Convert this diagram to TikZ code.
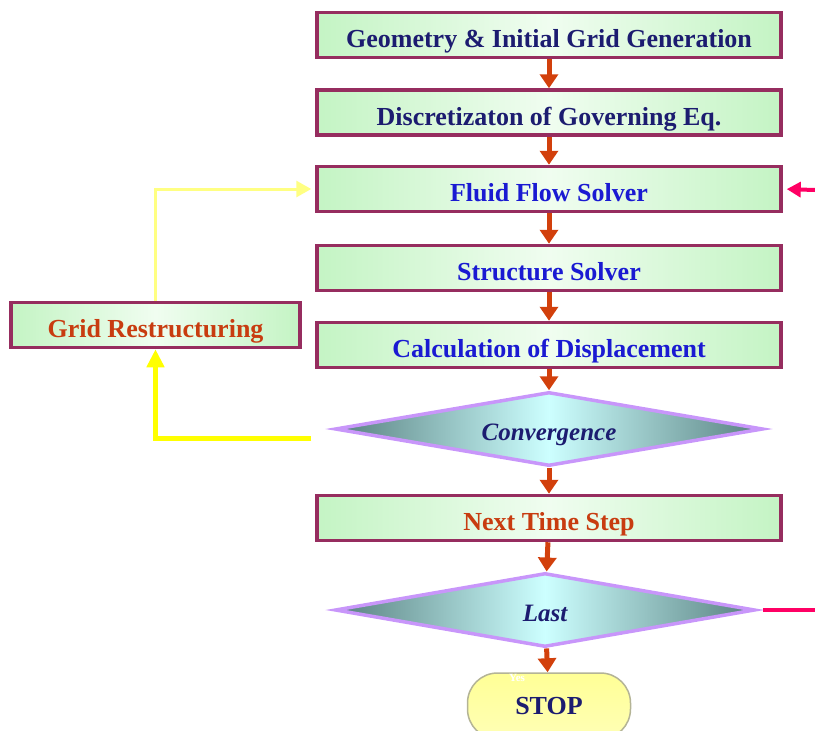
\documentclass[tikz,border=0pt]{standalone}
\usepackage{fontspec}
\setmainfont{Liberation Serif}
\usetikzlibrary{calc, shapes, arrows.meta, positioning}
\definecolor{boxgreen}{RGB}{196,244,196}
\definecolor{boxlight}{RGB}{240,253,240}
\definecolor{boxborder}{RGB}{150,45,95}
\definecolor{diadark}{RGB}{88,128,128}
\definecolor{dialight}{RGB}{205,255,255}
\definecolor{dialine}{RGB}{200,150,250}
\definecolor{arrowred}{RGB}{210,64,12}
\definecolor{textnavy}{RGB}{28,28,112}
\definecolor{textblue}{RGB}{26,26,210}
\definecolor{textorange}{RGB}{200,60,16}
\definecolor{loopyellow}{RGB}{255,255,130}
\definecolor{hotyellow}{RGB}{255,255,0}
\definecolor{looppink}{RGB}{255,0,100}
\definecolor{stopyellow}{RGB}{255,255,150}
\definecolor{stopborder}{RGB}{180,180,150}
\tikzset{
    flowbox/.style = {draw=boxborder, line width=3.5pt, rectangle, left color=boxgreen, right color=boxgreen,
      middle color=boxlight, minimum width=464pt, minimum height=45pt, inner sep=0pt, node distance=0em,
      text height=25pt, text depth=0pt, font=\bfseries\fontsize{26}{28}\selectfont},
    decisionnode/.style = {draw=dialine, line width=3.5pt, diamond, aspect=5.8, left color=diadark, right color=diadark,
      middle color=dialight, minimum width=428pt, minimum height=74pt, inner sep=0pt, node distance=0em,
      text height=22pt, text depth=0pt, font=\bfseries\itshape\fontsize{25}{28}\selectfont, text=textnavy},
    stopnode/.style = {draw=stopborder, line width=1.5pt, rectangle, rounded corners=30pt, top color=stopyellow,
      bottom color=stopyellow!70!white, minimum width=163pt, minimum height=66pt, node distance=0em,
      font=\bfseries\fontsize{26}{28}\selectfont, text=textnavy},
    connect/.style = {draw=arrowred, line width=5pt, -{Triangle[width=18pt,length=14pt]}},
    textnode/.style = {draw=none, fill=none, inner sep=0pt, node distance=0em, font=\bfseries\fontsize{11}{12}\selectfont}
}
\begin{document}
\begin{tikzpicture}
    \useasboundingbox (0,0) rectangle (815pt,-731pt);
    \clip (0,0) rectangle (815pt,-731pt);

    % main column
    \node [name=geom, flowbox, text=textnavy] at (549pt,-35pt) {Geometry \& Initial Grid Generation};
    \node [name=discr, flowbox, text=textnavy, below of=geom, yshift=-77.5pt] {Discretizaton of Governing Eq.};
    \node [name=fluid, flowbox, text=textblue, below of=discr, yshift=-76.5pt] {Fluid Flow Solver};
    \node [name=struct, flowbox, text=textblue, below of=fluid, yshift=-79pt] {Structure Solver};
    \node [name=displ, flowbox, text=textblue, below of=struct, yshift=-77pt] {Calculation of Displacement};
    \node [name=conv, decisionnode, below of=displ, yshift=-84pt] {Convergence};
    \node [name=next, flowbox, text=textorange, below of=conv, yshift=-89pt] {Next Time Step};
    \node [name=last, decisionnode, minimum width=420pt, below of=next, yshift=-92pt, xshift=-4pt] {Last};
    \node [name=stop, stopnode, below of=last, yshift=-96pt, xshift=4pt] {STOP};
    \node [name=yes, textnode, text=white, above of=stop, xshift=-32pt, yshift=28pt] {Yes};

    % grid loop
    \node [name=grid, flowbox, text=textorange, minimum width=289pt, left of=displ, xshift=-393.5pt, yshift=20pt] {Grid Restructuring};

    \draw (geom) edge[connect] (discr);
    \draw (discr) edge[connect] (fluid);
    \draw (fluid) edge[connect] (struct);
    \draw (struct) edge[connect] (displ);
    \draw (displ) edge[connect] (conv);
    \draw (conv) edge[connect] (next);
    \draw (next) edge[connect] (last);
    \draw (last) edge[connect] (stop);

    \coordinate (convout) at ($(conv.west)+(-22pt,-9pt)$);
    \draw [hotyellow, line width=5pt, -{Triangle[width=17pt,length=18pt]}] (convout) -| (grid.south);
    \draw [loopyellow, line width=3pt, -{Triangle[width=16pt,length=15pt]}, shorten >=4pt] (grid.north) |- (fluid.west);

    % time loop (leaves the picture)
    \coordinate (loopin) at (815pt,-190pt);
    \coordinate (loopout) at (815pt,-610pt);
    \draw [looppink, line width=4pt, -{Triangle[width=15pt,length=14pt]}, shorten >=4pt] (loopin) -- (fluid.east);
    \draw [looppink, line width=4pt, shorten <=6pt] (last.east) -- (loopout);
\end{tikzpicture}
\end{document}
